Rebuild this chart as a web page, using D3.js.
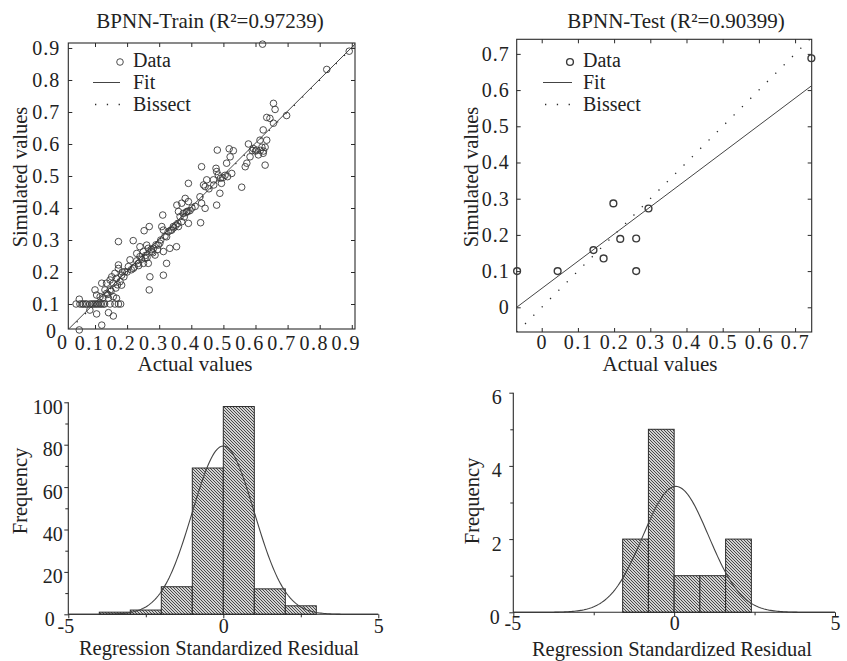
<!DOCTYPE html>
<html><head><meta charset="utf-8">
<script src="https://cdn.jsdelivr.net/npm/d3@7"></script>
<style>
body{margin:0;background:#fff}
text{font-family:"Liberation Serif","Times New Roman",serif;fill:#222}
</style>
</head><body>
<svg id="c" width="847" height="661"></svg>
<script>
// ---------------- DATA ----------------
const trainTitle = "BPNN-Train (R\u00B2=0.97239)";
const testTitle = "BPNN-Test (R\u00B2=0.90399)";
const legendLabels = ["Data", "Fit", "Bissect"];
const scatterTicks = [0.1, 0.2, 0.3, 0.4, 0.5, 0.6, 0.7, 0.8, 0.9];
const testScatterTicks = [0, 0.1, 0.2, 0.3, 0.4, 0.5, 0.6, 0.7];

// BPNN-Train: [actual, simulated]
const trainPoints = [
 [0.622,0.912],[0.892,0.89],[0.822,0.833],[0.656,0.727],[0.661,0.708],[0.635,0.683],[0.645,0.68],
 [0.697,0.689],[0.656,0.665],[0.624,0.644],[0.635,0.612],[0.614,0.612],[0.578,0.6],[0.593,0.586],
 [0.603,0.581],[0.63,0.59],[0.624,0.571],[0.609,0.566],[0.583,0.56],[0.63,0.534],[0.573,0.54],
 [0.568,0.529],[0.557,0.465],[0.481,0.581],[0.518,0.585],[0.531,0.579],[0.521,0.56],[0.51,0.54],
 [0.526,0.508],[0.513,0.498],[0.432,0.529],[0.477,0.524],[0.479,0.514],[0.484,0.503],[0.491,0.493],
 [0.494,0.477],[0.469,0.488],[0.448,0.488],[0.438,0.472],[0.443,0.467],[0.489,0.446],[0.479,0.409],
 [0.427,0.435],[0.432,0.415],[0.443,0.399],[0.429,0.354],[0.391,0.477],[0.391,0.42],[0.381,0.43],
 [0.37,0.415],[0.355,0.409],[0.386,0.389],[0.375,0.383],[0.36,0.389],[0.365,0.373],[0.37,0.357],
 [0.391,0.352],[0.36,0.342],[0.344,0.342],[0.339,0.331],[0.328,0.326],[0.313,0.331],[0.311,0.378],
 [0.308,0.342],[0.323,0.31],[0.333,0.274],[0.354,0.279],[0.313,0.264],[0.297,0.284],[0.302,0.29],
 [0.323,0.227],[0.313,0.19],[0.269,0.342],[0.253,0.329],[0.271,0.185],[0.269,0.144],[0.173,0.295],
 [0.219,0.298],[0.24,0.279],[0.261,0.284],[0.266,0.274],[0.282,0.274],[0.287,0.253],[0.277,0.264],
 [0.251,0.264],[0.23,0.258],[0.24,0.248],[0.256,0.243],[0.266,0.227],[0.251,0.227],[0.235,0.227],
 [0.219,0.211],[0.209,0.238],[0.204,0.217],[0.193,0.201],[0.183,0.19],[0.173,0.222],[0.173,0.211],
 [0.162,0.196],[0.152,0.185],[0.147,0.175],[0.157,0.165],[0.167,0.18],[0.183,0.159],[0.136,0.165],
 [0.121,0.165],[0.136,0.133],[0.131,0.144],[0.147,0.144],[0.1,0.144],[0.105,0.128],[0.116,0.123],
 [0.051,0.115],[0.157,0.123],[0.167,0.118],[0.142,0.118],
 [0.041,0.1],[0.053,0.1],[0.06,0.1],[0.064,0.1],[0.07,0.1],[0.074,0.1],[0.084,0.1],[0.09,0.1],
 [0.095,0.1],[0.1,0.1],[0.105,0.1],[0.11,0.1],[0.116,0.1],[0.12,0.1],[0.126,0.1],[0.13,0.1],
 [0.147,0.1],[0.162,0.1],[0.173,0.1],[0.18,0.1],
 [0.084,0.081],[0.105,0.069],[0.142,0.073],[0.157,0.0625],[0.121,0.034],[0.051,0.019],
 [0.2,0.2],[0.213,0.207],[0.222,0.215],[0.245,0.24],[0.258,0.252],[0.275,0.27],[0.29,0.285],
 [0.305,0.3],[0.318,0.312],[0.335,0.33],[0.345,0.338],[0.352,0.346],[0.358,0.352],[0.378,0.372],
 [0.384,0.386],[0.39,0.39],[0.396,0.392],[0.402,0.4],[0.412,0.405],[0.455,0.46],[0.47,0.472],
 [0.498,0.495],[0.505,0.502],[0.59,0.58],[0.6,0.578],[0.615,0.58],[0.625,0.578],[0.62,0.59],
 [0.19,0.185],[0.185,0.2],[0.178,0.17],[0.17,0.16],[0.165,0.15],[0.15,0.14],[0.14,0.13],
 [0.125,0.12],[0.23,0.235],[0.236,0.22],[0.262,0.245],[0.28,0.26],[0.295,0.27]
];
const trainFit = {intercept: 0.004, slope: 0.998};

// BPNN-Test: [actual, simulated]
const testPoints = [
 [-0.068,0.1],[0.044,0.1],[0.143,0.158],[0.171,0.135],[0.198,0.287],
 [0.217,0.189],[0.261,0.19],[0.261,0.1],[0.295,0.273],[0.745,0.688]
];
const testFit = {intercept: 0.052, slope: 0.751};

// Histograms of regression standardized residuals
const trainBinEdges = [-4, -3, -2, -1, 0, 1, 2, 3];
const trainBinCounts = [1, 2, 13, 69, 98, 12, 4];
const trainNormal = {mean: 0, sd: 1.0, n: 199, width: 1};
const trainFreqTicks = [0, 20, 40, 60, 80, 100];
const trainFreqMinor = [10, 30, 50, 70, 90];

const testBinEdges = [-1.6, -0.8, 0, 0.8, 1.6, 2.4];
const testBinCounts = [2, 5, 1, 1, 2];
const testNormal = {mean: 0.05, sd: 1.02, n: 11, width: 0.8};
const testFreqTicks = [0, 2, 4, 6];
const testFreqMinor = [1, 3, 5];

const residTicks = [-5, 0, 5];
const residMinor = [-2.5, 2.5];

// ---------------- DRAWING ----------------
const svg = d3.select("#c");
const INK = "#2a2a2a";
const LABEL = 21;

// hatch pattern
const defs = svg.append("defs");
const pat = defs.append("pattern").attr("id", "hatch")
  .attr("patternUnits", "userSpaceOnUse").attr("width", 3).attr("height", 3);
pat.append("rect").attr("width", 3).attr("height", 3).attr("fill", "#d2d2d2");
pat.append("path").attr("d", "M-0.75,-0.75L3.75,3.75M-0.75,2.25L0.75,3.75M2.25,-0.75L3.75,0.75")
  .attr("stroke", "#3a3a3a").attr("stroke-width", 0.9);

function styleAxis(g, fontSize, ls) {
  g.select(".domain").remove();
  g.selectAll(".tick line").attr("stroke", INK);
  g.selectAll(".tick text").attr("font-size", fontSize).attr("fill", "#222")
    .attr("font-family", '"Liberation Serif","Times New Roman",serif')
    .style("letter-spacing", ls || "0px");
}

function scatterPanel(c) {
  const x = d3.scaleLinear().domain(c.xDomain).range([c.left, c.right]);
  const y = d3.scaleLinear().domain(c.yDomain).range([c.bottom, c.top]);
  const g = svg.append("g");
  const clipId = "clip" + c.id;
  defs.append("clipPath").attr("id", clipId).append("rect")
    .attr("x", c.left).attr("y", c.top).attr("width", c.right - c.left).attr("height", c.bottom - c.top);

  // axes with inward ticks
  const bx = g.append("g").attr("transform", `translate(0,${c.bottom})`)
    .call(d3.axisBottom(x).tickValues(c.xTicks).tickSize(-4).tickPadding(c.xPad).tickFormat(d => String(d)));
  styleAxis(bx, 20, c.xLs);
  bx.selectAll(".tick text").attr("dx", c.xLabelShift);
  const tx = g.append("g").attr("transform", `translate(0,${c.top})`)
    .call(d3.axisTop(x).tickValues(c.xTicks).tickSize(-4).tickFormat(""));
  styleAxis(tx, 20);
  const ly = g.append("g").attr("transform", `translate(${c.left},0)`)
    .call(d3.axisLeft(y).tickValues(c.yTicks).tickSize(-4).tickPadding(c.yPad).tickFormat(d => String(d)));
  styleAxis(ly, 20, "1px");
  const ry = g.append("g").attr("transform", `translate(${c.right},0)`)
    .call(d3.axisRight(y).tickValues(c.yTicks).tickSize(-4).tickFormat(""));
  styleAxis(ry, 20);

  g.append("rect").attr("x", c.left).attr("y", c.top)
    .attr("width", c.right - c.left).attr("height", c.bottom - c.top)
    .attr("fill", "none").attr("stroke", INK).attr("stroke-width", 1.1);

  const lines = g.append("g").attr("clip-path", `url(#${clipId})`);
  const [x0, x1] = c.xDomain;
  // bissect
  lines.append("line").attr("x1", x(x0)).attr("y1", y(x0)).attr("x2", x(x1)).attr("y2", y(x1))
    .attr("stroke", INK).attr("stroke-width", 1.3).attr("stroke-dasharray", "1.3,10.5");
  // fit
  lines.append("line")
    .attr("x1", x(x0)).attr("y1", y(c.fit.intercept + c.fit.slope * x0))
    .attr("x2", x(x1)).attr("y2", y(c.fit.intercept + c.fit.slope * x1))
    .attr("stroke", "#444").attr("stroke-width", 1);

  g.append("g").selectAll("circle").data(c.points).join("circle")
    .attr("cx", d => x(d[0])).attr("cy", d => y(d[1])).attr("r", c.r)
    .attr("fill", "none").attr("stroke", "#3a3a3a").attr("stroke-width", c.sw);

  // title & labels
  g.append("text").attr("x", c.titleX).attr("y", 28).attr("text-anchor", "middle")
    .attr("font-size", LABEL).text(c.title);
  g.append("text").attr("x", c.xLabelX).attr("y", 371).attr("text-anchor", "middle")
    .attr("font-size", LABEL).text("Actual values");
  g.append("text").attr("transform", `translate(${c.yLabelX},177) rotate(-90)`)
    .attr("text-anchor", "middle").attr("font-size", 20.5).text("Simulated values");

  // legend
  const L = c.legend;
  g.append("circle").attr("cx", L.mx).attr("cy", 62).attr("r", c.r)
    .attr("fill", "none").attr("stroke", "#3a3a3a").attr("stroke-width", c.sw);
  g.append("line").attr("x1", L.lx0).attr("x2", L.lx1).attr("y1", 82.5).attr("y2", 82.5)
    .attr("stroke", "#444").attr("stroke-width", 1);
  g.append("line").attr("x1", L.lx0 + 2).attr("x2", L.lx1).attr("y1", 104.5).attr("y2", 104.5)
    .attr("stroke", INK).attr("stroke-width", 1.3).attr("stroke-dasharray", "1.3,10.5");
  legendLabels.forEach((t, i) => {
    g.append("text").attr("x", L.tx).attr("y", [67, 89, 111][i]).attr("font-size", 20).text(t);
  });
  return {x, y, g};
}

// Train scatter
const tr = scatterPanel({
  id: "tr", left: 68.3, right: 355, top: 43, bottom: 329,
  xDomain: [0.0168, 0.91], yDomain: [0.0219, 0.9156],
  xTicks: scatterTicks, yTicks: scatterTicks, xPad: 7, yPad: 8, xLabelShift: -6, xLs: "1.5px",
  points: trainPoints, fit: trainFit, r: 3.3, sw: 0.9,
  title: trainTitle, titleX: 210, xLabelX: 195, yLabelX: 27,
  legend: {mx: 120, tx: 133, lx0: 93, lx1: 120}
});
// the "0" origin labels squeezed at the corner
tr.g.append("text").attr("x", 62).attr("y", 349).attr("text-anchor", "middle").attr("font-size", 20).text("0");
tr.g.append("text").attr("x", 56).attr("y", 338).attr("text-anchor", "end").attr("font-size", 20).text("0");

// Test scatter
scatterPanel({
  id: "te", left: 516.7, right: 811.7, top: 39.3, bottom: 332,
  xDomain: [-0.0691, 0.7459], yDomain: [-0.0682, 0.7403],
  xTicks: testScatterTicks, yTicks: testScatterTicks, xPad: 3, yPad: 7, xLabelShift: 0, xLs: "1.5px",
  points: testPoints, fit: testFit, r: 3.4, sw: 1.4,
  title: testTitle, titleX: 676, xLabelX: 660, yLabelX: 478,
  legend: {mx: 570, tx: 583, lx0: 543, lx1: 572}
});

function histPanel(c) {
  const x = d3.scaleLinear().domain([-5, 5]).range([c.left, c.right]);
  const y = d3.scaleLinear().domain(c.yDomain).range([c.bottom, c.top]);
  const g = svg.append("g");
  const bins = c.counts.map((n, i) => ({x0: c.edges[i], x1: c.edges[i + 1], n}));
  g.append("g").selectAll("rect").data(bins).join("rect")
    .attr("x", d => x(d.x0)).attr("width", d => x(d.x1) - x(d.x0))
    .attr("y", d => y(d.n)).attr("height", d => y(0) - y(d.n))
    .attr("fill", "url(#hatch)").attr("stroke", INK).attr("stroke-width", 1);

  const xs = d3.range(-5, 5.001, 0.05);
  const nm = c.normal;
  const pdf = v => Math.exp(-0.5 * ((v - nm.mean) / nm.sd) ** 2) / (nm.sd * Math.sqrt(2 * Math.PI));
  g.append("path").datum(xs)
    .attr("d", d3.line().x(v => x(v)).y(v => y(nm.n * nm.width * pdf(v))))
    .attr("fill", "none").attr("stroke", "#444").attr("stroke-width", 1.1);

  const ax = g.append("g").attr("transform", `translate(0,${c.bottom})`)
    .call(d3.axisBottom(x).tickValues(residTicks).tickSize(4).tickPadding(c.xPad).tickFormat(d => String(d)));
  styleAxis(ax, 20);
  ax.selectAll(".tick text").attr("dx", d => d < 0 ? c.minusShift : 0);
  const axm = g.append("g").attr("transform", `translate(0,${c.bottom})`)
    .call(d3.axisBottom(x).tickValues(residMinor).tickSize(3).tickFormat(""));
  styleAxis(axm, 20);
  const ay = g.append("g").attr("transform", `translate(${c.left},0)`)
    .call(d3.axisLeft(y).tickValues(c.yTicks).tickSize(4).tickPadding(c.yPad).tickFormat(d => String(d)));
  styleAxis(ay, 20);
  ay.selectAll(".tick text").attr("dy", "0.55em").attr("dx", d => d === 0 ? c.zeroShift : 0);
  const aym = g.append("g").attr("transform", `translate(${c.left},0)`)
    .call(d3.axisLeft(y).tickValues(c.yMinor).tickSize(3).tickFormat(""));
  styleAxis(aym, 20);

  g.append("line").attr("x1", c.left).attr("x2", c.left).attr("y1", c.top).attr("y2", c.bottom)
    .attr("stroke", INK).attr("stroke-width", 1.1);
  g.append("line").attr("x1", c.left).attr("x2", c.right).attr("y1", c.bottom).attr("y2", c.bottom)
    .attr("stroke", INK).attr("stroke-width", 1.1);

  g.append("text").attr("x", c.xLabelX).attr("y", c.xLabelY).attr("text-anchor", "middle")
    .attr("font-size", 20.5).text("Regression Standardized Residual");
  g.append("text").attr("transform", `translate(${c.yLabelX},${c.yLabelY}) rotate(-90)`)
    .attr("text-anchor", "middle").attr("font-size", 20.5).text("Frequency");
}

histPanel({
  left: 68.3, right: 378.3, top: 402.3, bottom: 614.3, yDomain: [0, 100],
  edges: trainBinEdges, counts: trainBinCounts, normal: trainNormal,
  yTicks: trainFreqTicks, yMinor: trainFreqMinor, xPad: 1, yPad: 1.5, minusShift: -3, zeroShift: -8,
  xLabelX: 219, xLabelY: 655, yLabelX: 27, yLabelY: 491
});
histPanel({
  left: 513.3, right: 835, top: 392.7, bottom: 612.3, yDomain: [0, 6],
  edges: testBinEdges, counts: testBinCounts, normal: testNormal,
  yTicks: testFreqTicks, yMinor: testFreqMinor, xPad: 0, yPad: 7.5, minusShift: -1, zeroShift: -2,
  xLabelX: 672, xLabelY: 655.5, yLabelX: 479, yLabelY: 501
});
</script>
</body></html>
